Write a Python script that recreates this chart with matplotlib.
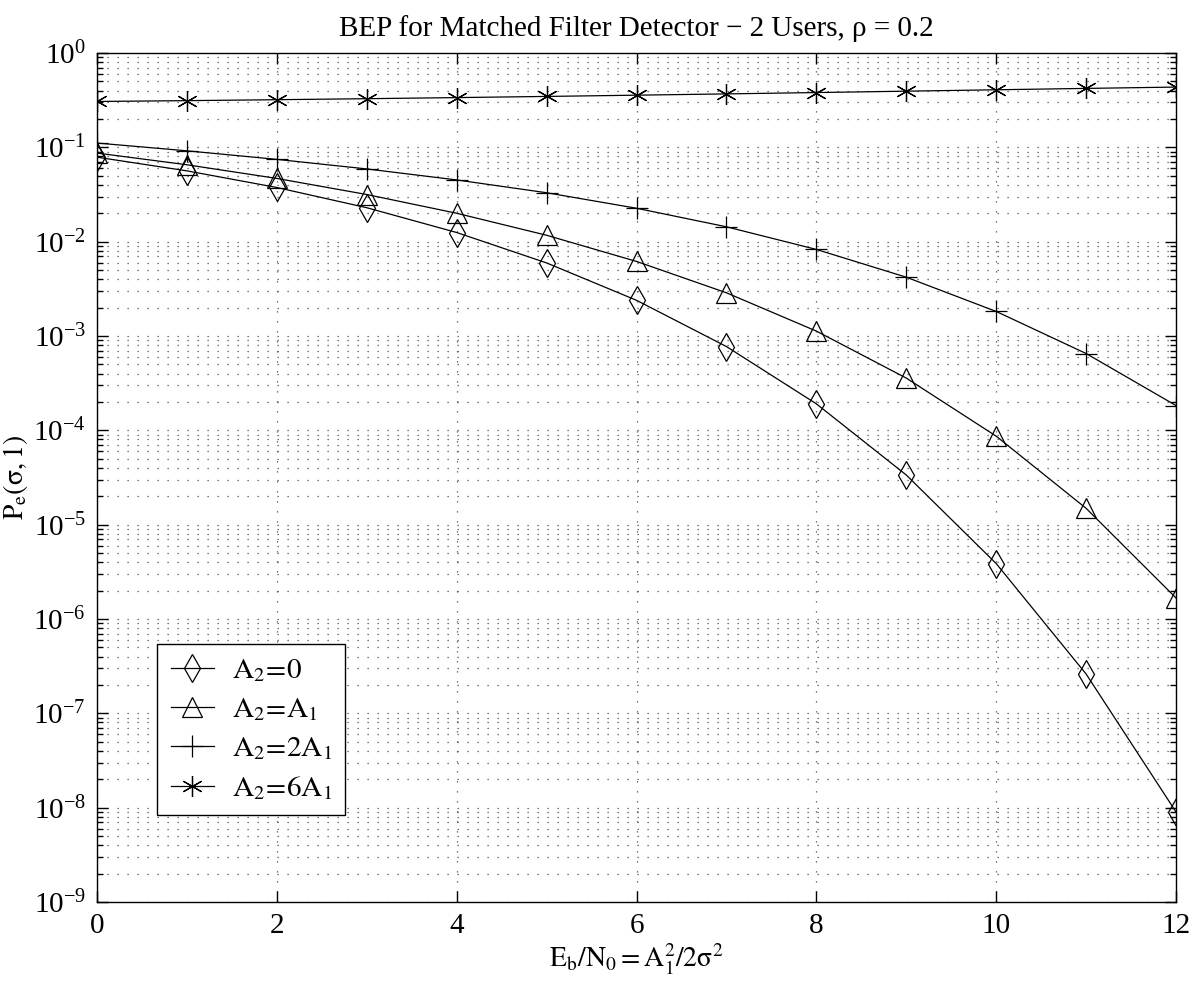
import matplotlib
matplotlib.use("Agg")
import matplotlib.pyplot as plt
from matplotlib.ticker import LogLocator, MultipleLocator, NullFormatter

plt.rcParams['font.family'] = ['Liberation Serif', 'DejaVu Serif']
plt.rcParams['mathtext.fontset'] = 'stix'

# Eb/N0 in dB
snr_db = [0, 1, 2, 3, 4, 5, 6, 7, 8, 9, 10, 11, 12]

# bit error probability of user 1, one list per interferer amplitude
pe_a2_zero = [0.0786, 0.0563, 0.0375, 0.0229, 0.0125, 0.00595, 0.00239,
              7.73e-4, 1.91e-4, 3.36e-5, 3.87e-6, 2.61e-7, 9.0e-9]
pe_a2_a1 = [0.0869, 0.0653, 0.0468, 0.0316, 0.0200, 0.01169, 0.00617,
            0.00287, 0.001127, 3.58e-4, 8.67e-5, 1.49e-5, 1.67e-6]
pe_a2_2a1 = [0.1110, 0.0918, 0.0745, 0.0590, 0.0451, 0.0330, 0.0226,
             0.01437, 0.00827, 0.00420, 0.00182, 6.52e-4, 1.83e-4]
pe_a2_6a1 = [0.3061, 0.3124, 0.3196, 0.3276, 0.3365, 0.3462, 0.3569,
             0.3683, 0.3806, 0.3936, 0.4073, 0.4211, 0.4350]

labels = [r'$\mathrm{A_2\!=\!0}$', r'$\mathrm{A_2\!=\!A_1}$',
          r'$\mathrm{A_2\!=\!2A_1}$', r'$\mathrm{A_2\!=\!6A_1}$']

fig = plt.figure(figsize=(12.03, 9.92), dpi=100)
ax = fig.add_axes([0.0806, 0.0907, 0.8970, 0.8559])

line_kw = dict(color='black', linewidth=0.9, markerfacecolor='none',
               markeredgecolor='black', markeredgewidth=0.9)
ax.semilogy(snr_db, pe_a2_zero, marker='d', markersize=14, label=labels[0], **line_kw)
ax.semilogy(snr_db, pe_a2_a1, marker='^', markersize=14, label=labels[1], **line_kw)
ax.semilogy(snr_db, pe_a2_2a1, marker='+', markersize=16, label=labels[2], **line_kw)
ax.semilogy(snr_db, pe_a2_6a1, marker=(6, 2, 0), markersize=15, label=labels[3], **line_kw)

ax.set_xlim(0, 12)
ax.set_ylim(1e-9, 1e0)
ax.xaxis.set_major_locator(MultipleLocator(2))
ax.yaxis.set_major_locator(LogLocator(base=10, numticks=20))
ax.yaxis.set_minor_locator(LogLocator(base=10, subs=range(2, 10), numticks=100))
ax.yaxis.set_minor_formatter(NullFormatter())

ax.tick_params(which='both', direction='in', top=True, right=True,
               labelsize=21, width=1.0, color='black')
ax.tick_params(which='major', length=8, pad=8)
ax.tick_params(which='minor', length=4)

# sparse dotted grid, decades and the 2..9 minors
ax.grid(True, which='major', axis='both', linestyle=(0, (1, 7)),
        color='0.3', linewidth=0.9)
ax.grid(True, which='minor', axis='y', linestyle=(0, (1, 7)),
        color='0.3', linewidth=0.9)
for spine in ax.spines.values():
    spine.set_linewidth(1.0)

ax.set_title('BEP for Matched Filter Detector \u2212 2 Users, \u03c1 = 0.2',
             fontsize=21, pad=12)
ax.set_xlabel(r'$\mathrm{E_b/N_0 = A_1^2/2\sigma^2}$', fontsize=20, labelpad=2)
ax.set_ylabel(r'$\mathrm{P_e(\sigma,1)}$', fontsize=20, labelpad=2)

leg = ax.legend(loc='lower left', bbox_to_anchor=(0.056, 0.102), fontsize=21,
                frameon=True, fancybox=False, edgecolor='black',
                framealpha=1, handlelength=1.5, handletextpad=0.6,
                borderpad=0.45, labelspacing=0.42, borderaxespad=0)
leg.get_frame().set_linewidth(1.0)

fig.savefig('out.png', dpi=100)
